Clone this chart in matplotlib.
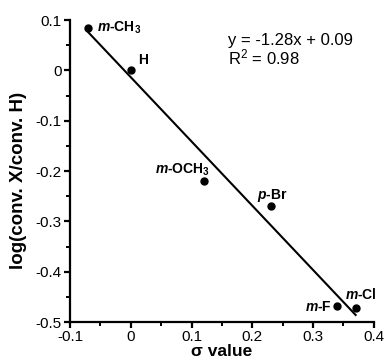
import numpy as np
import matplotlib
matplotlib.use("Agg")
import matplotlib.pyplot as plt
from matplotlib.ticker import MultipleLocator

plt.rcParams['font.family'] = ['Liberation Sans', 'DejaVu Sans']
plt.rcParams['mathtext.fontset'] = 'custom'
plt.rcParams['mathtext.rm'] = 'Liberation Sans'
plt.rcParams['mathtext.it'] = 'Liberation Sans:italic'
plt.rcParams['mathtext.bf'] = 'Liberation Sans:bold'
plt.rcParams['mathtext.bfit'] = 'Liberation Sans:bold:italic'

# substituent data
names = [r'$\mathbfit{m}$-CH$_\mathbf{3}$', 'H', r'$\mathbfit{m}$-OCH$_\mathbf{3}$',
         r'$\mathbfit{p}$-Br', r'$\mathbfit{m}$-F', r'$\mathbfit{m}$-Cl']
sigma = [-0.07, 0.0, 0.12, 0.23, 0.34, 0.37]
log_ratio = [0.084, 0.0, -0.22, -0.27, -0.467, -0.472]
# label anchor (x, y, ha)
label_pos = [(-0.056, 0.084, 'left'), (0.012, 0.02, 'left'), (0.131, -0.198, 'right'),
             (0.207, -0.248, 'left'), (0.331, -0.469, 'right'), (0.352, -0.445, 'left')]

fig = plt.figure(figsize=(3.87, 3.64), dpi=100)
ax = fig.add_axes([0.181, 0.115, 0.785, 0.83])

x = np.array(sigma)
y = np.array(log_ratio)
k, b = np.polyfit(x, y, 1)
xl = np.array([x.min(), x.max()])
ax.plot(xl, k * xl + b, color='black', linewidth=1.5)
ax.plot(x, y, 'o', color='black', markersize=5)

for n, (lx, ly, ha) in zip(names, label_pos):
    ax.text(lx, ly, n, ha=ha, va='center', fontsize=10, fontweight='bold')

ax.text(0.16, 0.04, 'y = -1.28x + 0.09\nR$^2$ = 0.98', fontsize=12,
        ha='left', va='center', linespacing=0.95)

ax.set_xlim(-0.1, 0.4)
ax.set_ylim(-0.5, 0.1)
ax.xaxis.set_minor_locator(MultipleLocator(0.05))
ax.yaxis.set_minor_locator(MultipleLocator(0.05))
ax.set_xticks([-0.1, 0, 0.1, 0.2, 0.3, 0.4])
ax.set_xticklabels(['-0.1', '0', '0.1', '0.2', '0.3', '0.4'])
ax.set_yticks([0.1, 0, -0.1, -0.2, -0.3, -0.4, -0.5])
ax.set_yticklabels(['0.1', '0', '-0.1', '-0.2', '-0.3', '-0.4', '-0.5'])
for s in ['top', 'right']:
    ax.spines[s].set_visible(False)
for s in ['left', 'bottom']:
    ax.spines[s].set_linewidth(1.6)
ax.tick_params(which='major', direction='out', length=4, width=1.6, labelsize=11, pad=2)
ax.tick_params(which='minor', direction='out', length=3, width=1.4)

ax.set_xlabel('σ value', fontsize=12.5, fontweight='bold', labelpad=0)
ax.set_ylabel('log(conv. X/conv. H)', fontsize=13.5, fontweight='bold')
ax.yaxis.set_label_coords(-0.142, 0.47)

fig.savefig('out.png', dpi=100)
